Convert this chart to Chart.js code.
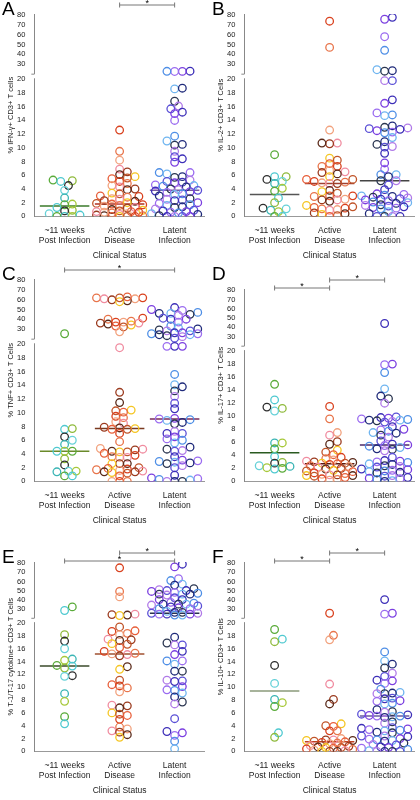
<!DOCTYPE html>
<html><head><meta charset="utf-8">
<script src="https://cdn.jsdelivr.net/npm/chart.js@4.4.1/dist/chart.umd.min.js"></script>
<style>
body{margin:0;background:#fff;width:420px;height:800px;position:relative;font-family:"Liberation Sans",Arial,sans-serif}
.p{position:absolute;width:210px}
</style></head><body>
<div class="p" style="left:0;top:0;height:265px"><canvas id="cA"></canvas></div>
<div class="p" style="left:210px;top:0;height:265px"><canvas id="cB"></canvas></div>
<div class="p" style="left:0;top:265px;height:265px"><canvas id="cC"></canvas></div>
<div class="p" style="left:210px;top:265px;height:265px"><canvas id="cD"></canvas></div>
<div class="p" style="left:0;top:530px;height:270px"><canvas id="cE"></canvas></div>
<div class="p" style="left:210px;top:530px;height:270px"><canvas id="cF"></canvas></div>
<script>
const categories=[["~11 weeks","Post Infection"],["Active","Disease"],["Latent","Infection"]];
const xTitle="Clinical Status";
const yTickValues=[0,2,4,6,8,10,12,14,16,18,20,30,40,50,60,70,80];

const A1=[5.3,5.1,5.2,4.5,3.8,2.7,1.8,1.7,1.3,0.9,0.8,0.4,0,0,0,0.2];
const A2=[12.6,9.5,8.2,6.9,6.5,6.1,5.8,5.6,5.5,5.1,4.8,4.5,4.3,4.0,3.9,3.4,3.3,3.0,2.9,2.8,2.6,2.5,2.3,2.2,2.0,1.9,1.8,1.7,1.6,1.5,1.3,1.2,1.0,0.9,0.8,0.7,0.6,0.5,0.4,0.3,0.2,0.1,0,0,0,0,0.1,0.6,0.7];
const A3=[22.5,22.3,22.2,22.4,18.6,18.7,16.8,16.1,15.7,15.2,15.0,14.0,11.7,11.0,10.5,10.4,9.5,8.7,8.4,7.9,6.4,6.4,6.2,5.8,5.7,5.3,5.1,5.0,4.9,4.6,4.4,4.5,4.3,4.0,3.9,3.8,3.7,3.6,3.5,3.3,3.2,3.0,2.6,2.5,2.4,2.3,2.0,1.9,1.7,1.6,1.4,1.3,1.1,0.9,0.8,0.7,0.6,0.5,0.4,0.3,0.1,0,0,0,0];
const B1=[9.0,5.8,5.8,5.4,5.1,4.8,4.1,3.7,2.7,2.0,1.2,1.1,0.9,0.7,0,0];
const B2=[74,47,12.6,10.7,10.6,10.7,8.5,8.2,7.7,7.3,7.3,6.7,6.5,6.4,6.2,5.8,5.4,5.4,5.1,5.0,4.9,4.8,4.8,3.8,3.6,3.4,3.0,3.0,2.9,2.5,2.4,2.4,2.2,1.6,1.4,1.3,1.2,1.1,1.0,0.9,0.5,0.4,0.3,0.1,0];
const B3=[78,76,58,44,24,23,22.5,19.8,19.8,17,16.5,15.1,14.8,14.7,13.2,13,12.9,12.8,12.7,12.5,12.3,12.2,11.5,10.9,10.5,10.2,10.1,9.2,7.8,6.9,6.1,6.1,5.8,5.2,5.2,4.6,3.9,3.3,3.2,3.1,3,2.9,2.8,2.7,2.6,2.5,2.4,2.3,2.1,2.0,1.9,1.7,1.6,1.5,1.4,1.3,1.2,1.1,0.7,0.4,0,0,0,0];
const C1=[25,7.6,7.7,6.5,6.0,5.4,4.4,4.4,4.4,3.3,2.4,1.5,1.4,1.5,0.8,0.8];
const C2=[62,62,61,61,60,59,58,62,63,41,40,37,36,36,35,34,32,33,37,38,27,19.5,13,11.5,10.4,10.3,10.1,9.5,9.3,8.7,8.5,7.9,7.8,7.7,7.6,7.6,7.0,5.8,4.8,4.7,4.6,4.4,4.3,4.3,4.1,3.8,3.6,3.5,3.5,2.6,2.6,2.6,2.0,1.9,1.8,1.7,1.6,1.5,1.4,1.4,1.3,1.2,0.8,0,0,0];
const C3=[52,50,49,47,46,46,45,44,41,40,40,37,33,31,30,29,28,28,26,26,25,25,24,24,23,22,20.5,19.7,19.7,19.7,15.6,14.1,13.8,13.2,12.4,11.4,10.6,9.2,9.1,9.0,8.9,8.6,8.4,7.3,7.0,7.0,6.5,6.2,6.0,5.6,5.0,4.7,4.5,4.4,3.6,3.1,3.0,2.9,2.8,2.7,2.6,2.3,2.0,0.9,0.5,0.4,0.3,0.2,0,0,0];
const D1=[14.9,12.5,11.2,11.4,10.8,5.9,5.9,5.0,3.8,2.9,2.8,2.4,2.3,2.1,2.0,1.9];
const D2=[11.5,9.6,7.5,7.1,6.1,5.7,4.8,4.5,4.1,3.7,3.5,3.3,3.1,3.0,2.9,2.8,2.8,2.7,2.6,2.4,2.3,2.2,2.0,1.9,1.7,1.6,1.5,1.3,1.2,1.1,1.0,1.0,0.9,0.9,0.8,0.6,0.4,0.3,0.2];
const D3=[44,18,17.9,16.7,14.2,13.1,12.7,12.0,9.9,9.8,9.7,9.6,9.5,9.4,9.4,9.3,9.2,9.1,8.4,8.0,7.9,7.7,7.5,7.4,7.1,6.8,6.2,5.7,5.6,5.5,5.4,5.2,5.0,4.9,4.7,3.7,3.2,3.1,3.0,2.9,2.7,2.6,2.4,2.3,2.2,1.9,1.8,1.7,1.6,1.5,1.4,1.3,0.9,0.8,0.6,0.5,0.4,0.3,0.1,0];
const E1=[32,28,18.2,17.2,16.0,14.4,14.2,13.4,13.3,13.0,11.8,11.7,9.0,7.8,5.4,4.3];
const E2=[75,49,43,24,23.5,23,22.5,19.4,18.8,18.7,18.4,18.2,17.5,17.4,17.3,16.8,16.7,16.2,15.6,15.3,15.2,15.1,14.9,13.2,12.8,11.1,10.4,10.2,9.9,9.3,7.2,7.1,6.8,6.0,5.8,5.6,5.0,3.8,3.5,3.2,3.0,2.6,2.2];
const E3=[79,76,63,61,57,56,52,51,50,50,49,48,47,46,46,46,45,42,40,40,37,36,35,35,35,34,33,32,31,30,30,27,26,26,25,25,24,24,24,23,23,17.8,16.9,16.6,16.6,15.6,15.1,14.1,14.1,13.6,12.5,12.5,11.1,11.0,10.9,10.1,9.6,9.5,9.1,8.5,7.7,7.4,5.1,3.1,2.9,2.5,1.6,0.4];
const F1=[19,17.5,17.1,13.4,10.6,8.1,7.6,7.0,2.9,2.2];
const F2=[25,18.1,17.4,10.5,8.1,7.4,4.3,4.0,3.9,3.2,3.2,2.0,1.8,1.8,1.7,1.7,1.6,1.5,1.4,1.3,1.2,0.9,0.8,0.7,0.6,0.6,0.5,0.4,0.3,0.2,0.1,0,0,0];
const F3=[40,25,24,15.5,14.1,13.6,13.0,12.2,11.7,11.1,11.0,10.6,9.7,9.2,9.1,9.0,9.0,8.3,8.2,7.9,7.8,7.5,7.4,6.5,6.2,6.1,5.8,5.7,5.6,5.5,5.5,5.4,5.3,4.6,4.4,3.7,3.6,3.5,3.4,3.3,3.2,3.0,2.9,2.4,2.4,2.3,2.0,1.9,1.8,1.7,1.6,1.3,1.1,1.0,0.7,0.6,0.5,0.3,0.1,0,0,0,0];

const medians={A:[1.5,1.8,3.8],B:[3.2,4.8,5.2],C:[4.4,7.7,9.1],D:[4.4,2.7,5.6],E:[13.3,15.2,25],F:[9.4,1.5,5.5]};
const yTitles={A:"% IFN-γ+ CD3+ T cells",B:"% IL-2+ CD3+ T Cells",C:"% TNF+ CD3+ T Cells",D:"% IL-17+ CD3+ T Cells",E:"% T-1/T-17 cytokine+ CD3+ T Cells",F:"% IL-10+ CD3+ T Cells"};
const brackets={A:[[2,3,0]],B:[],C:[[1,3,0]],D:[[1,2,1],[2,3,0]],E:[[1,3,1],[2,3,0]],F:[[1,2,1],[2,3,0]]};
const groups={A:[A1,A2,A3],B:[B1,B2,B3],C:[C1,C2,C3],D:[D1,D2,D3],E:[E1,E2,E3],F:[F1,F2,F3]};

const palettes=[
 ['#5aab3a','#4fc9d0','#8fba3c','#2e2e2e','#66d1d8','#3bb5b5','#a7c83a'],
 ['#d9411e','#e8744a','#f2a27e','#f08ca0','#9b3b1f','#5a2a1a','#f5c623','#c0552a','#e85f3a'],
 ['#3d2fb8','#7b3fe0','#9b6cf0','#4f8fe6','#6fb5f0','#1f2a7a','#2a3550','#b07ae8','#5a4fd6']];
const medColors={A:['#3a7a2a','#b03020','#7a5aa0'],B:['#555','#a04030','#444'],C:['#6a8a2a','#7a3a20','#7a2a5a'],D:['#2a5a20','#5a1a10','#4a2a6a'],E:['#3a4a2a','#a05030','#2a3050'],F:['#8a9a7a','#c04020','#6a5aa0']};

const BREAK=20, GAP=0.83, K=0.1416;
const fwd=v=>v<=BREAK?v:BREAK+GAP+(v-BREAK)*K;
const YMAX=fwd(80)+0.2;

function swarm(vals,g){
  const placed=[];const out=[];
  const order=vals.map((v,i)=>[v,i]).sort((a,b)=>a[0]-b[0]);
  const ax=0.13, ry=0.75, dx=0.07, lim=0.43;
  for(const [v,i] of order){
    const y=fwd(v);let chosen=null,best=1e9,bestOff=0;
    for(let k=0;k<20;k++){
      const off=(k===0?0:(k%2?1:-1)*Math.ceil(k/2))*dx;
      if(Math.abs(off)>lim)break;
      let ov=0;
      for(const p of placed){const a=(p.x-off)/ax,b=(p.y-y)/ry;const d=a*a+b*b;if(d<1)ov+=1-d;}
      if(ov===0){chosen=off;break;}
      if(ov<best){best=ov;bestOff=off;}
    }
    if(chosen===null)chosen=bestOff;
    placed.push({x:chosen,y});
    out[i]={x:g+chosen,y,c:palettes[g-1][i%palettes[g-1].length]};
  }
  return out;
}

const starPlugin={id:'deco',afterDraw(ch){
  const o=ch.options.plugins.deco;const ctx=ch.ctx;const xs=ch.scales.x,ys=ch.scales.y;
  ctx.save();
  ctx.fillStyle='#fff';
  const yb1=ys.getPixelForValue(20.15),yb2=ys.getPixelForValue(20.75);
  ctx.fillRect(xs.left-6,yb2,8,yb1-yb2);
  ctx.strokeStyle='#888';ctx.lineWidth=1;
  ctx.beginPath();ctx.moveTo(xs.left-3,yb2);ctx.lineTo(xs.left,yb2);ctx.stroke();
  ctx.fillStyle='#000';ctx.font='19px "Liberation Sans"';ctx.textBaseline='top';
  ctx.fillText(o.letter,2,o.letterY);
  ctx.strokeStyle='#777';ctx.fillStyle='#000';ctx.font='9px "Liberation Sans"';ctx.textAlign='center';
  for(const [a,b,lvl] of o.br){
    const y=ch.chartArea.top-9+lvl*8;const x1=xs.getPixelForValue(a),x2=xs.getPixelForValue(b);
    ctx.beginPath();ctx.moveTo(x1,y-2.5);ctx.lineTo(x1,y+2.5);ctx.moveTo(x1,y);ctx.lineTo(x2,y);ctx.moveTo(x2,y-2.5);ctx.lineTo(x2,y+2.5);ctx.stroke();
    ctx.textBaseline='bottom';ctx.fillText('*',(x1+x2)/2,y+3);
  }
  ctx.restore();
}};

function make(id,L,topPad,letterY){
  const ds=[];
  groups[L].forEach((vals,gi)=>{
    const pts=swarm(vals,gi+1);
    ds.push({type:'scatter',data:pts.map(p=>({x:p.x,y:p.y})),pointRadius:3.8,pointHoverRadius:3.8,pointBorderWidth:1.3,
      pointBackgroundColor:'rgba(0,0,0,0)',pointBorderColor:pts.map(p=>p.c)});
    const m=fwd(medians[L][gi]);
    ds.push({type:'line',data:[{x:gi+1-0.45,y:m},{x:gi+1+0.45,y:m}],borderColor:medColors[L][gi],borderWidth:1.5,pointRadius:0});
  });
  new Chart(document.getElementById(id),{type:'scatter',data:{datasets:ds},
    options:{responsive:true,maintainAspectRatio:false,animation:false,
      layout:{padding:{top:topPad,right:4,left:2,bottom:0}},
      plugins:{legend:{display:false},tooltip:{enabled:false},deco:{letter:L,br:brackets[L],letterY:letterY}},
      scales:{
        x:{type:'linear',min:0.45,max:3.55,grid:{display:false},border:{color:'#999'},
          afterBuildTicks:s=>{s.ticks=[1,2,3].map(v=>({value:v}));},
          ticks:{callback:v=>categories[v-1],font:{size:8.5,family:'Liberation Sans'},color:'#222',padding:1,maxRotation:0},
          title:{display:true,text:xTitle,font:{size:8.5,family:'Liberation Sans'},color:'#222',padding:{top:4,bottom:4}}},
        y:{type:'linear',min:0,max:YMAX,grid:{display:false,drawOnChartArea:false},border:{color:'#888'},
          afterBuildTicks:s=>{s.ticks=yTickValues.map(v=>({value:fwd(v)}));},
          ticks:{callback:(v,i)=>String(yTickValues[i]),font:{size:7.5,family:'Liberation Sans'},color:'#222',padding:1,autoSkip:false},
          title:{display:true,text:yTitles[L],font:{size:7.5,family:'Liberation Sans'},color:'#222',padding:{bottom:1}}}
      }},plugins:[starPlugin]});
}
make('cA','A',14,0);
make('cB','B',14,0);
make('cC','C',14,0);
make('cD','D',24,0);
make('cE','E',32,18);
make('cF','F',32,18);
</script></body></html>
